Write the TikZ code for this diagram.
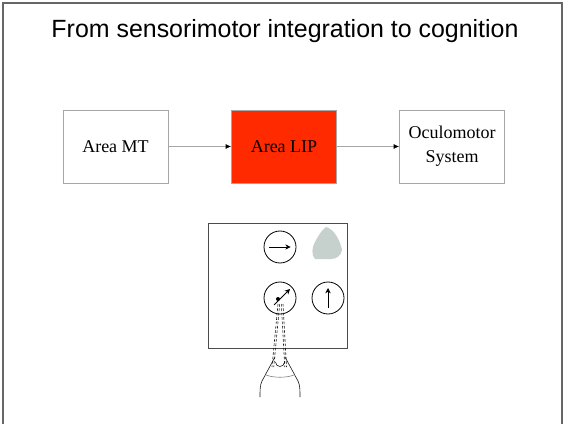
\documentclass[tikz,border=0pt]{standalone}
\usepackage{fontspec}
\setmainfont{Liberation Serif}
\newfontfamily\titlefont{Liberation Sans}
\usepackage{tikz}
\usetikzlibrary{arrows.meta, positioning}

\definecolor{lipred}{HTML}{FF2A00}
\definecolor{fieldgray}{HTML}{C6D1CE}

\tikzset{
  area/.style={draw=gray!70, minimum width=79pt, minimum height=55pt,
               align=center, font=\fontsize{13.5}{18}\selectfont, inner sep=2pt},
  flow/.style={draw=gray!70, thin, -{Latex[length=4pt, width=3.5pt, black]}},
  field/.style={draw, semithick, circle, minimum size=24pt, inner sep=0pt},
  motion/.style={semithick, -{Stealth[length=4pt, width=4pt]}},
  gaze/.style={dash pattern=on 2pt off 1.3pt, line width=0.45pt, gray!20!black},
  outline/.style={gray!20!black, line width=0.45pt}
}

\begin{document}
\begin{tikzpicture}[x=0.75pt, y=-0.75pt]
        \useasboundingbox (0,0) rectangle (564,424);

        % Khung ngoài (mở ở đáy)
        \draw[gray!80!black, line width=0.8pt] (3,430) -- (3,3) -- (562,3) -- (562,430);

        % Tiêu đề
        \node (title) at (285,31) {\titlefont\fontsize{18.7}{22}\selectfont From sensorimotor integration to cognition};

        % Chuỗi xử lý
        \node[area] (mt) at (115.5,146.5) {Area MT};
        \node[area, fill=lipred] (lip) at (284,146.5) {Area LIP};
        \node[area] (oculo) at (452,146.5) {Oculomotor\\System};
        \draw[flow] (mt) -- (lip);
        \draw[flow] (lip) -- (oculo);

        % Màn hình kích thích
        \draw[gray!60!black, line width=0.6pt] (208,223) rectangle (347,348);

        % Trường tiếp nhận
        \node[field] (rfA) at (280,247) {};
        \node[field] (rfB) at (280,298) {};
        \node[field] (rfC) at (328,298) {};
        \draw[motion] ([xshift=-8pt]rfA.center) -- ([xshift=8pt]rfA.center);
        \draw[motion] ([yshift=-7.5pt]rfC.center) -- ([yshift=7.5pt]rfC.center);
        \draw[motion] (274,305) -- (290,289);
        \fill (278,299) circle (1.5pt);

        % Vùng mờ phía phải
        \fill[fieldgray] (326,227) .. controls (334,229) and (340,240) .. (342,250)
                         .. controls (341,256) and (336,259) .. (331,259)
                         -- (315,259) .. controls (311,255) and (312,247) .. (315,242)
                         .. controls (318,236) and (321,231) .. (326,227) -- cycle;

        % Đầu người quan sát (nhìn từ trên)
        \coordinate (eyeL) at (272,367);
        \coordinate (eyeR) at (286.5,367);
        \draw[outline] (275.5,362) arc (180:0:4.5);
        \draw[outline] (275,357) -- (262,381);
        \draw[outline] (285,357) -- (298,381);
        \draw[outline, gray] (266,375) .. controls (274,378) and (286,378) .. (294,375);
        \draw[outline] (262,381) .. controls (260,385) and (260,390) .. (260,397);
        \draw[outline] (298,381) .. controls (300,385) and (300,390) .. (300,397);

        % Đường nhìn
        \draw[gaze] (278,304) -- (eyeL);
        \draw[gaze] (279.7,304) -- ([xshift=1.3pt]eyeL);
        \draw[gaze] (281.3,304) -- ([xshift=-1.3pt]eyeR);
        \draw[gaze] (283,304) -- (eyeR);
      \end{tikzpicture}
\end{document}
